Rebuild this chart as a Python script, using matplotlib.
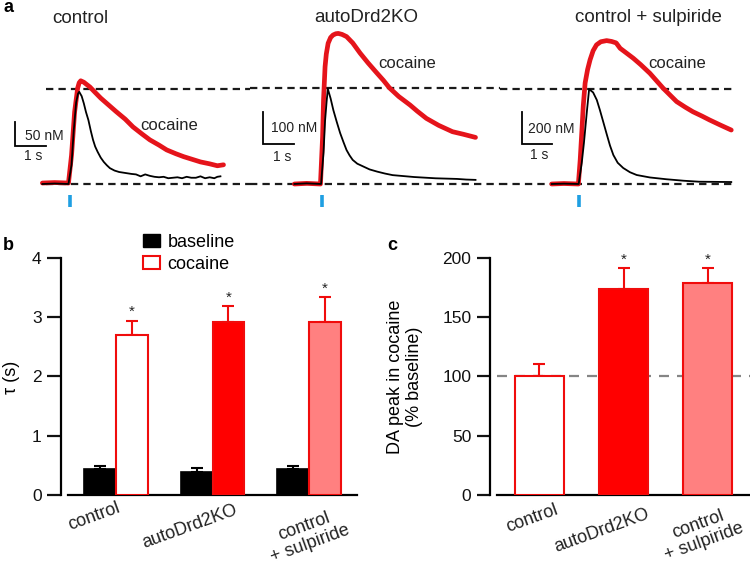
import matplotlib
matplotlib.use("Agg")
import matplotlib.pyplot as plt
from matplotlib.patches import Patch

plt.rcParams['font.family'] = ['Liberation Sans', 'DejaVu Sans']

# ---------------- data ----------------
titles = ["control", "autoDrd2KO", "control + sulpiride"]
scale_nM = [50, 100, 200]

# control traces (time in s relative to stimulation, DA in nM)
ctrl_t_base = [-0.9, -0.5, -0.05, 0.05, 0.12, 0.2, 0.26, 0.3, 0.38, 0.45, 0.52, 0.6, 0.68, 0.75, 0.82,
               0.9, 1.0, 1.1, 1.2, 1.3, 1.45, 1.6, 1.8, 2.0, 2.15, 2.3, 2.45, 2.6, 2.75, 2.9, 3.05,
               3.2, 3.35, 3.5, 3.65, 3.8, 3.95, 4.1, 4.25, 4.4, 4.55, 4.7, 4.8, 4.9]
ctrl_base = [0, 1, 0, 40, 110, 170, 188, 192, 183, 168, 150, 133, 110, 92, 78,
             67, 55, 46, 39, 33, 28, 25, 23, 21, 20, 16, 20, 17, 15, 14, 15,
             12, 13, 14, 12, 15, 13, 13, 16, 12, 14, 12, 15, 16]
ctrl_t_coc = [-0.9, -0.5, -0.05, 0.05, 0.15, 0.25, 0.3, 0.35, 0.45, 0.65, 0.8, 1.0, 1.25, 1.5, 1.8,
              2.05, 2.35, 2.6, 2.9, 3.15, 3.45, 3.7, 4.0, 4.25, 4.55, 4.8, 5.0]
ctrl_coc = [2, 3, 2, 60, 150, 200, 211, 215, 212, 202, 192, 179, 165, 151, 135,
            119, 104, 92, 81, 71, 63, 57, 51, 46, 42, 38, 40]

# autoDrd2KO traces
ko_t_base = [-0.9, -0.5, -0.03, 0.05, 0.1, 0.15, 0.19, 0.28, 0.37, 0.48, 0.59, 0.7, 0.8, 0.9, 1.0,
             1.15, 1.35, 1.55, 1.8, 2.05, 2.3, 2.65, 3.0, 3.35, 3.7, 4.05, 4.4, 4.7, 5.0]
ko_base = [0, 2, 0, 100, 200, 260, 300, 270, 233, 196, 161, 132, 107, 90, 76,
           64, 55, 46, 39, 33, 28, 25, 22, 20, 18, 17, 16, 14, 13]
ko_t_coc = [-0.9, -0.5, -0.05, 0.02, 0.05, 0.1, 0.14, 0.2, 0.28, 0.36, 0.45, 0.53, 0.65, 0.8, 1.0,
            1.24, 1.5, 1.77, 2.0, 2.2, 2.5, 2.87, 3.1, 3.4, 3.8, 4.25, 4.6, 5.0]
ko_coc = [0, 2, 0, 150, 265, 370, 410, 444, 462, 470, 474, 475, 472, 465, 445,
          413, 382, 352, 327, 303, 276, 249, 230, 207, 185, 165, 157, 147]

# control + sulpiride traces
sul_t_base = [-0.9, -0.5, -0.02, 0.08, 0.15, 0.25, 0.32, 0.45, 0.57, 0.67, 0.78, 0.9, 1.0, 1.11,
              1.25, 1.43, 1.65, 1.87, 2.3, 2.84, 3.4, 3.9, 4.45, 4.95]
sul_base = [0, 2, 0, 130, 250, 450, 580, 560, 514, 453, 380, 300, 235, 177,
            130, 98, 72, 55, 40, 29, 20, 14, 13, 12]
sul_t_coc = [-0.9, -0.5, -0.03, 0.03, 0.08, 0.13, 0.19, 0.27, 0.35, 0.45, 0.56, 0.7, 0.89, 1.05,
             1.2, 1.33, 1.5, 1.76, 2.0, 2.3, 2.73, 3.17, 3.45, 3.7, 4.0, 4.24, 4.6, 4.95]
sul_coc = [0, 3, 0, 150, 312, 480, 618, 700, 759, 815, 851, 870, 877, 872,
           863, 830, 806, 769, 730, 677, 586, 504, 470, 442, 415, 392, 360, 330]

peak_ref = [198, 302, 581]   # dashed reference = baseline peak (nM)

groups = ["control", "autoDrd2KO", "control\n+ sulpiride"]
tau_base = [0.44, 0.39, 0.44]
tau_base_err = [0.05, 0.07, 0.05]
tau_coc = [2.70, 2.91, 2.91]
tau_coc_err = [0.24, 0.28, 0.42]

peak_pct = [100, 174, 179]
peak_pct_err = [10, 17, 12]

# ---------------- layout helpers ----------------
W, H = 750, 567
fig = plt.figure(figsize=(7.5, 5.67), dpi=100)


def fx(px):
    return px / W


def fy(py):
    return 1 - py / H


RED_TRACE = '#e5141b'
BLUE = '#1f9fe2'
coc_fill = ['white', '#ff0000', '#ff8080']
coc_edge = '#f00c0c'

# ---------------- panel a ----------------
traces = [(ctrl_t_base, ctrl_base, ctrl_t_coc, ctrl_coc),
          (ko_t_base, ko_base, ko_t_coc, ko_coc),
          (sul_t_base, sul_base, sul_t_coc, sul_coc)]
left_px = [0, 250, 500]
stim_px = [70, 322, 579.3]
px_per_s = 30.7
nm_per_px = [50 / 24.0, 100 / 31.7, 200 / 32.7]
base_py, top_py, bot_py = 184, 0, 210
dash_x = [(46 / 250, 1.0), (0.0, 1.0), (0.0, (736 - 500) / 250)]
scale_corner = [(15.5, 145.7), (263.3, 144.0), (521.7, 144.3)]
scale_lbl_pos = [((25, 140), (23.5, 160)), ((271, 132.5), (273, 161)), ((528, 132.7), (530, 158.5))]
title_pos = [(80, 23), (366, 22), (648, 22)]
coc_lbl_pos = [(140.7, 130), (378.3, 68.3), (648.3, 68.3)]

for i in range(3):
    k = nm_per_px[i]
    ax = fig.add_axes([fx(left_px[i]), fy(bot_py), 250 / W, (bot_py - top_py) / H])
    ax.set_xlim((left_px[i] - stim_px[i]) / px_per_s, (left_px[i] + 250 - stim_px[i]) / px_per_s)
    ax.set_ylim(-(bot_py - base_py) * k, (base_py - top_py) * k)
    ax.axis('off')
    tb, yb, tc, yc = traces[i]
    x0, x1 = dash_x[i]
    for lev in (peak_ref[i], 0):
        ax.axhline(lev, xmin=x0, xmax=x1, color='#1a1a1a', lw=1.6, ls=(0, (3.3, 2.3)), zorder=1)
    ax.plot(tc, yc, color=RED_TRACE, lw=3.4, solid_joinstyle='round', solid_capstyle='round', zorder=2)
    ax.plot(tb, yb, color='black', lw=1.3, solid_joinstyle='round', zorder=3)
    # stimulation marker
    ax.plot([0, 0], [-(195 - base_py) * k, -(207 - base_py) * k], color=BLUE, lw=2.6,
            solid_capstyle='butt', clip_on=False)
    # scale bar
    cx, cy = scale_corner[i]
    sx = (cx - stim_px[i]) / px_per_s
    sy = (base_py - cy) * k
    ax.plot([sx, sx, sx + 1], [sy + scale_nM[i], sy, sy], color='black', lw=1.3,
            solid_joinstyle='miter')
    (lx, ly), (tx, ty) = scale_lbl_pos[i]
    fig.text(fx(lx), fy(ly), f"{scale_nM[i]} nM", fontsize=10, ha='left', va='baseline',
             color='#222222')
    fig.text(fx(tx), fy(ty), "1 s", fontsize=10, ha='left', va='baseline', color='#222222')
    fig.text(fx(title_pos[i][0]), fy(title_pos[i][1]), titles[i], fontsize=13.5,
             ha='center', va='baseline', color='#222222')
    fig.text(fx(coc_lbl_pos[i][0]), fy(coc_lbl_pos[i][1]), "cocaine", fontsize=12,
             ha='left', va='baseline', color='#222222')

fig.text(fx(3), fy(12), "a", fontsize=13, fontweight='bold', ha='left', va='baseline')


# ---------------- shared bar styling ----------------
def style_bar_axis(ax, ymax, yticks, tick_len):
    ax.set_ylim(0, ymax)
    ax.set_xlim(0, 3)
    for s in ('top', 'right'):
        ax.spines[s].set_visible(False)
    ax.spines['left'].set_position(('outward', 5))
    ax.spines['left'].set_linewidth(1.6)
    ax.spines['bottom'].set_linewidth(1.6)
    ax.set_yticks(yticks)
    ax.set_xticks([])
    ax.tick_params(axis='y', length=tick_len, width=1.6, labelsize=12.5, pad=4, colors='#111111')
    ax.patch.set_alpha(0)


centers = [0.5, 1.5, 2.5]

# ---------------- panel b ----------------
axb = fig.add_axes([fx(68), fy(495), (357 - 68) / W, (495 - 257.7) / H])
style_bar_axis(axb, 4, [0, 1, 2, 3, 4], 10)
bw = 0.33
xb = [c - bw / 2 for c in centers]
xc = [c + bw / 2 for c in centers]
axb.errorbar(xb, tau_base, yerr=[[0] * 3, tau_base_err], fmt='none', ecolor='black',
             elinewidth=1.5, capsize=4.5, capthick=1.5, zorder=2)
axb.errorbar(xc, tau_coc, yerr=[[0] * 3, tau_coc_err], fmt='none', ecolor=coc_edge,
             elinewidth=1.5, capsize=4.5, capthick=1.5, zorder=2)
axb.bar(xb, tau_base, width=bw, color='black', edgecolor='black', linewidth=1.2, zorder=3)
axb.bar(xc, tau_coc, width=bw, color=coc_fill, edgecolor=coc_edge, linewidth=1.5, zorder=3)
for x, v, e in zip(xc, tau_coc, tau_coc_err):
    axb.annotate('*', (x, v + e), xytext=(0, 1), textcoords='offset points', ha='center',
                 va='bottom', fontsize=11, color='#222222')
handles = [Patch(facecolor='black', edgecolor='black'),
           Patch(facecolor='white', edgecolor=coc_edge, linewidth=1.5)]
axb.legend(handles, ['baseline', 'cocaine'], loc='upper left',
           bbox_to_anchor=((143 - 68) / 289, (495 - 234) / 237.3), frameon=False, fontsize=13,
           handlelength=0.95, handleheight=0.72, handletextpad=0.4, labelspacing=0.25,
           borderaxespad=0, borderpad=0)
fig.text(fx(12), fy(377), "τ (s)", rotation=90, fontsize=13, ha='center', va='center')
fig.text(fx(3), fy(250), "b", fontsize=13, fontweight='bold', ha='left', va='baseline')
for (px, py), lab in zip([(94, 517), (190, 527), (307, 535)], groups):
    fig.text(fx(px), fy(py), lab, rotation=20, rotation_mode='anchor', fontsize=13,
             ha='center', va='center', multialignment='center', linespacing=1.1, color='#222222')

# ---------------- panel c ----------------
axc = fig.add_axes([fx(497), fy(495), (750 - 497) / W, (495 - 257.7) / H])
style_bar_axis(axc, 200, [0, 50, 100, 150, 200], 9.5)
axc.axhline(100, color='#858585', lw=1.6, ls=(0, (4.5, 3.6)), zorder=0.5)
bw2 = 0.58
axc.errorbar(centers, peak_pct, yerr=[[0] * 3, peak_pct_err], fmt='none', ecolor=coc_edge,
             elinewidth=1.5, capsize=4.5, capthick=1.5, zorder=2)
axc.bar(centers, peak_pct, width=bw2, color=coc_fill, edgecolor=coc_edge, linewidth=1.5, zorder=3)
for x, v, e in list(zip(centers, peak_pct, peak_pct_err))[1:]:
    axc.annotate('*', (x, v + e), xytext=(0, 1), textcoords='offset points', ha='center',
                 va='bottom', fontsize=11, color='#222222')
fig.text(fx(405), fy(377), "DA peak in cocaine\n(% baseline)", rotation=90, fontsize=13,
         ha='center', va='center', multialignment='center', linespacing=1.1)
fig.text(fx(387), fy(250), "c", fontsize=13, fontweight='bold', ha='left', va='baseline')
for (px, py), lab in zip([(532, 519), (602, 531), (701, 533)], groups):
    fig.text(fx(px), fy(py), lab, rotation=20, rotation_mode='anchor', fontsize=13,
             ha='center', va='center', multialignment='center', linespacing=1.1, color='#222222')

fig.savefig("out.png", dpi=100)
